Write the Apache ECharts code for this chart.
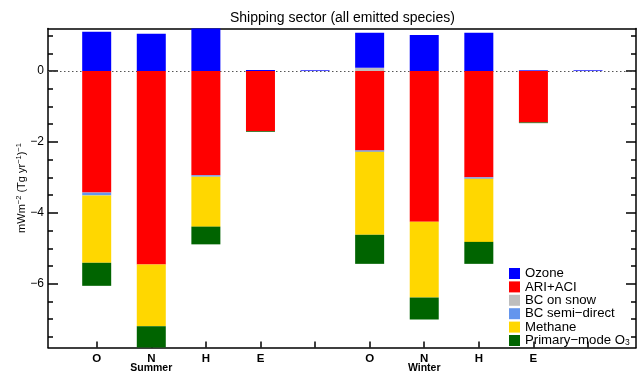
<!DOCTYPE html>
<html>
<head>
<meta charset="utf-8">
<script src="https://cdn.jsdelivr.net/npm/echarts@6/dist/echarts.min.js"></script>
<style>
  html, body { margin: 0; padding: 0; background: #fff; }
  #chart { width: 638px; height: 371px; }
</style>
</head>
<body>
<div id="chart"></div>
<script>
// Categories along the x axis (two seasons of O, N, H, E plus a spacer slot each)
const categories = ['O', 'N', 'H', 'E', '', 'O', 'N', 'H', 'E', ''];
const seasonNames = ['Summer', 'Winter'];
const seasonSlots = [1, 6];

// Radiative forcing per unit emission, mW m-2 (Tg yr-1)-1
const ozone        = [1.11, 1.05, 1.24, 0.03, 0.02, 0.99, 1.02, 1.08, 0.02, 0.02];
const ariAci       = [-3.43, -5.46, -2.94, -1.70, 0, -2.24, -4.25, -3.00, -1.45, 0];
const bcOnSnow     = [0, 0, 0, 0, 0, 0.09, 0, 0, 0, 0];
const bcSemiDirect = [-0.08, 0, -0.04, 0, 0, -0.04, 0, -0.04, 0, 0];
const methane      = [-1.90, -1.74, -1.41, 0, 0, -2.34, -2.14, -1.78, 0, 0];
const primaryO3    = [-0.65, -0.65, -0.50, -0.02, 0, -0.82, -0.62, -0.62, -0.02, 0];

// Value axis range and tick positions
const yMin = -7.8, yMax = 1.2;
const yMajorTicks = [-6, -4, -2, 0];
const yMinorTicks = [-7.5, -7, -6.5, -6, -5.5, -5, -4.5, -4, -3.5, -3, -2.5, -2, -1.5, -1, -0.5, 0, 0.5, 1];

const legendNames = ['Ozone', 'ARI+ACI', 'BC on snow', 'BC semi\u2212direct', 'Methane', 'Primary\u2212mode O3'];
const colors = {
  'Ozone': '#0000ff',
  'ARI+ACI': '#ff0000',
  'BC on snow': '#bebebe',
  'BC semi\u2212direct': '#6495ed',
  'Methane': '#ffd700',
  'Primary\u2212mode O3': '#006400'
};

const FONT = '"Liberation Sans", Arial, Helvetica, sans-serif';
const frameLine = { show: true, onZero: false, lineStyle: { color: '#000', width: 1.5 } };
const tickStyle = { color: '#000', width: 1.5 };

// Stacking order: BC on snow sits next to zero, ozone above it
const stackOrder = [
  ['BC on snow', bcOnSnow],
  ['Ozone', ozone],
  ['ARI+ACI', ariAci],
  ['BC semi\u2212direct', bcSemiDirect],
  ['Methane', methane],
  ['Primary\u2212mode O3', primaryO3]
];

const barSeries = stackOrder.map(([name, values]) => ({
  name: name,
  type: 'bar',
  stack: 'total',
  xAxisIndex: 2,
  yAxisIndex: 4,
  barWidth: 29,
  z: 3,
  itemStyle: { color: colors[name] },
  data: values
}));

const chart = echarts.init(document.getElementById('chart'), null, { renderer: 'canvas' });

chart.setOption({
  animation: false,
  backgroundColor: '#fff',
  title: {
    text: 'Shipping sector (all emitted species)',
    left: 230,
    top: 11,
    padding: 0,
    textStyle: { fontFamily: FONT, fontSize: 14, fontWeight: 'normal', color: '#000' }
  },
  legend: {
    orient: 'vertical',
    left: 509,
    top: 267,
    padding: 0,
    icon: 'rect',
    itemWidth: 11,
    itemHeight: 11,
    itemGap: 0.4,
    data: legendNames,
    selectedMode: false,
    formatter: function (name) {
      if (name.endsWith('O3')) {
        return '{n|' + name.slice(0, -1) + '}{sb|3}';
      }
      return '{n|' + name + '}';
    },
    textStyle: {
      fontFamily: FONT,
      fontSize: 13.2,
      color: '#000',
      lineHeight: 13,
      rich: {
        n: { fontFamily: FONT, fontSize: 13.2, lineHeight: 13, color: '#000' },
        sb: { fontFamily: FONT, fontSize: 8.5, lineHeight: 8, verticalAlign: 'bottom', color: '#000' }
      }
    }
  },
  grid: [
    { left: 48, right: 2, top: 28.5, bottom: 23.5, containLabel: false, outerBoundsMode: 'none' },
    { left: 69.4, right: 22.7, top: 28.5, bottom: 23.5, containLabel: false, outerBoundsMode: 'none' }
  ],
  xAxis: [
    {
      gridIndex: 0, type: 'value', position: 'bottom', min: 0, max: 1,
      axisLine: frameLine, axisTick: { show: false }, axisLabel: { show: false }, splitLine: { show: false }
    },
    {
      gridIndex: 0, type: 'value', position: 'top', min: 0, max: 1,
      axisLine: frameLine, axisTick: { show: false }, axisLabel: { show: false }, splitLine: { show: false }
    },
    {
      gridIndex: 1, type: 'category', position: 'bottom', data: categories,
      axisLine: { show: false, onZero: false },
      axisTick: { show: true, inside: true, length: 6, alignWithLabel: true, interval: 0, lineStyle: tickStyle },
      axisLabel: {
        interval: 0,
        margin: 6,
        color: '#000',
        fontFamily: FONT,
        fontSize: 11.5,
        fontWeight: 'bold',
        lineHeight: 10,
        formatter: function (value, index) {
          const k = seasonSlots.indexOf(index);
          return k >= 0 ? value + '\n{s|' + seasonNames[k] + '}' : value;
        },
        rich: {
          s: { fontFamily: FONT, fontSize: 10.5, fontWeight: 'bold', lineHeight: 9, color: '#000' }
        }
      },
      splitLine: { show: false }
    }
  ],
  yAxis: [
    {
      gridIndex: 0, type: 'value', position: 'left', min: yMin, max: yMax,
      axisLine: frameLine,
      axisTick: { show: true, inside: true, length: 10, customValues: yMajorTicks, lineStyle: tickStyle },
      axisLabel: {
        customValues: yMajorTicks,
        margin: 4,
        color: '#000',
        fontFamily: FONT,
        fontSize: 12,
        formatter: v => String(v).replace('-', '\u2212')
      },
      splitLine: { show: false },
      name: '{t|mWm}{p|\u22122}{t| (Tg yr}{p|\u22121}{t|)}{p|\u22121}',
      nameLocation: 'middle',
      nameRotate: 90,
      nameGap: 19,
      nameMoveOverlap: false,
      nameTextStyle: {
        color: '#000',
        rich: {
          t: { fontFamily: FONT, fontSize: 11, lineHeight: 14, color: '#000' },
          p: { fontFamily: FONT, fontSize: 7.5, lineHeight: 7, verticalAlign: 'top', color: '#000' }
        }
      }
    },
    {
      gridIndex: 0, type: 'value', position: 'left', min: yMin, max: yMax,
      axisLine: { show: false, onZero: false },
      axisTick: { show: true, inside: true, length: 5, customValues: yMinorTicks, lineStyle: tickStyle },
      axisLabel: { show: false },
      splitLine: { show: false }
    },
    {
      gridIndex: 0, type: 'value', position: 'right', min: yMin, max: yMax,
      axisLine: frameLine,
      axisTick: { show: true, inside: true, length: 10, customValues: yMajorTicks, lineStyle: tickStyle },
      axisLabel: { show: false },
      splitLine: { show: false }
    },
    {
      gridIndex: 0, type: 'value', position: 'right', min: yMin, max: yMax,
      axisLine: { show: false, onZero: false },
      axisTick: { show: true, inside: true, length: 5, customValues: yMinorTicks, lineStyle: tickStyle },
      axisLabel: { show: false },
      splitLine: { show: false }
    },
    {
      gridIndex: 1, type: 'value', min: yMin, max: yMax, show: false,
      axisLine: { onZero: false }, splitLine: { show: false }
    }
  ],
  series: [
    {
      // dotted zero reference across the full frame
      type: 'line',
      xAxisIndex: 0,
      yAxisIndex: 0,
      data: [],
      silent: true,
      z: 1,
      markLine: {
        silent: true,
        symbol: 'none',
        z: 1,
        label: { show: false },
        lineStyle: { type: [1.5, 2.5], color: '#555', width: 1 },
        data: [{ yAxis: 0 }]
      }
    }
  ].concat(barSeries)
});
</script>
</body>
</html>
